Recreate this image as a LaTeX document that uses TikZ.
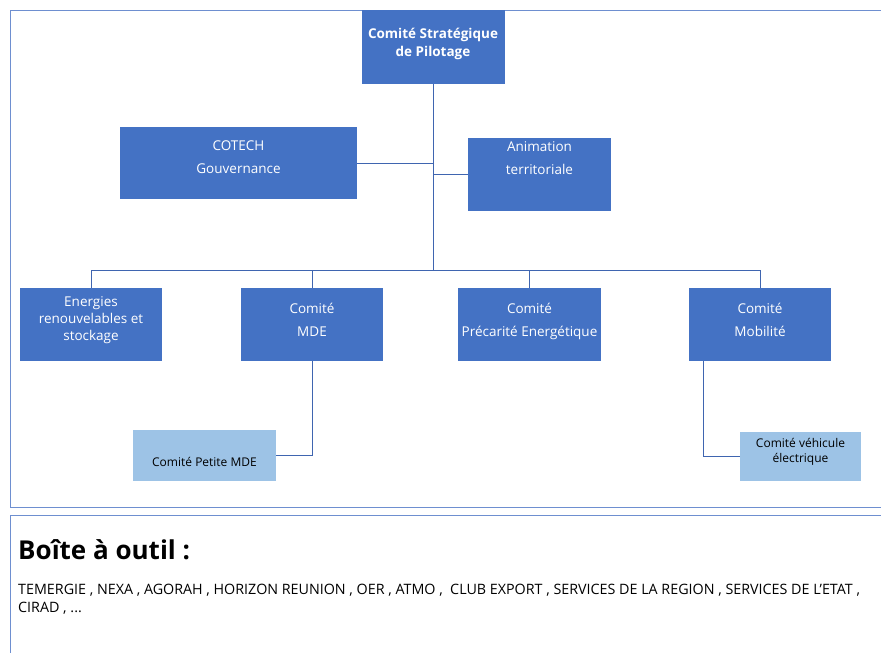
\documentclass[tikz,border=0pt]{standalone}
\usepackage{fontspec}
\setmainfont{Open Sans}
\usepackage{xcolor}
\definecolor{boxblue}{HTML}{4472C4}
\definecolor{subblue}{HTML}{9DC3E6}
\definecolor{lineblue}{HTML}{3F65B0}
\definecolor{frameblue}{HTML}{6E8FD0}
\tikzset{
  orgbox/.style={fill=boxblue, inner sep=0pt},
  subbox/.style={fill=subblue, inner sep=0pt},
  boxtext/.style={white, align=center, font=\fontsize{13.5}{23}\selectfont, anchor=north},
  subtext/.style={align=center, font=\fontsize{12}{15}\selectfont},
  link/.style={draw=lineblue, line width=0.8pt}
}

\begin{document}
\begin{tikzpicture}[x=1pt,y=-1pt]
  \clip (0,0) rectangle (881,653);
  \fill[white] (0,0) rectangle (881,653);

  % cadres
  \draw[frameblue, line width=0.9pt] (10,10) rectangle (895,507);
  \draw[frameblue, line width=0.9pt] (10,515) rectangle (895,680);

  % comite de pilotage
  \node[orgbox, minimum width=143, minimum height=74] (pilot) at (433,47) {};
  \node[boxtext, font=\fontsize{13.5}{18}\selectfont\bfseries] (pilottxt) at ([yshift=-15]pilot.north) {Comit\'e Strat\'egique\\de Pilotage};

  \node[orgbox, minimum width=237, minimum height=72] (cotech) at (238.5,163) {};
  \node[boxtext] (cotechtxt) at ([yshift=-10]cotech.north) {COTECH\\Gouvernance};

  \node[orgbox, minimum width=143, minimum height=73] (anim) at (539.5,174.5) {};
  \node[boxtext] (animtxt) at ([yshift=0]anim.north) {Animation\\territoriale};

  % comites
  \node[orgbox, minimum width=142, minimum height=73] (enr) at (91,324.5) {};
  \node[boxtext, font=\fontsize{13.5}{17}\selectfont] (enrtxt) at ([yshift=-5]enr.north) {Energies\\renouvelables et\\stockage};

  \node[orgbox, minimum width=142, minimum height=73] (mde) at (312,324.5) {};
  \node[boxtext] (mdetxt) at ([yshift=-12]mde.north) {Comit\'e\\MDE};

  \node[orgbox, minimum width=143, minimum height=73] (prec) at (529.5,324.5) {};
  \node[boxtext] (prectxt) at ([yshift=-12]prec.north) {Comit\'e\\Pr\'ecarit\'e Energ\'etique};

  \node[orgbox, minimum width=142, minimum height=73] (mob) at (760,324.5) {};
  \node[boxtext] (mobtxt) at ([yshift=-12]mob.north) {Comit\'e\\Mobilit\'e};

  % sous-comites
  \node[subbox, minimum width=143, minimum height=51] (petite) at (204.5,455.5) {};
  \node[subtext] (petitetxt) at ([yshift=-6]petite.center) {Comit\'e Petite MDE};
  \node[subbox, minimum width=121, minimum height=49] (vehic) at (800.5,456.5) {};
  \node[subtext, anchor=north] (vehictxt) at ([yshift=-3]vehic.north) {Comit\'e v\'ehicule\\\'electrique};

  % liaisons
  \coordinate (bus) at (433,270);
  \draw[link] (pilot.south) -- (bus);
  \draw[link] (cotech.east) -- (cotech.east -| bus);
  \draw[link] (anim.west) -- (anim.west -| bus);
  \foreach \n in {enr,mde,prec,mob}
    \draw[link] (bus) -| (\n.north);
  \draw[link] (mde.south) |- (petite.east);
  \draw[link] ([xshift=-57]mob.south) |- (vehic.west);

  % boite a outil
  \node[anchor=west, inner sep=0pt, font=\fontsize{26}{30}\selectfont\bfseries] (boite) at (18,550) {Bo\^ite \`a outil :};
  \node[anchor=north west, inner sep=0pt, align=left, font=\fontsize{14.3}{18}\selectfont] (outils) at (18,584)
    {TEMERGIE , NEXA , AGORAH , HORIZON REUNION , OER , ATMO ,\ \ CLUB EXPORT , SERVICES DE LA REGION , SERVICES DE L'ETAT ,\\CIRAD , ...};
\end{tikzpicture}
\end{document}
